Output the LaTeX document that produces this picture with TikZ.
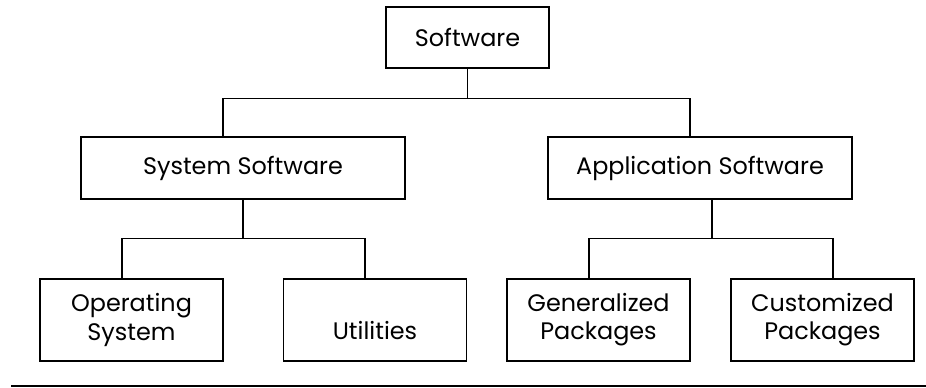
\documentclass[tikz,border=0pt]{standalone}
\usepackage{fontspec}
\setmainfont{Poppins}
\usepackage{tikz}
\tikzset{box/.style={draw,line width=0.85pt,inner sep=0pt,align=center,font=\fontsize{13.6}{16}\selectfont}}

\begin{document}
\begin{tikzpicture}[x=0.02cm,y=-0.02cm]
            \useasboundingbox (0,0) rectangle (926,387);
            \node[box,minimum width=3.26cm,minimum height=1.22cm] (sw) at (467.5,37.5) {Software};
            \node[box,minimum width=6.48cm,minimum height=1.24cm] (sys) at (243,168) {System Software};
            \node[box,minimum width=6.08cm,minimum height=1.24cm] (app) at (700,168) {Application Software};
            \node[box,minimum width=3.66cm,minimum height=1.64cm] (os) at (131.5,320) {Operating\\System};
            \node[box,minimum width=3.66cm,minimum height=1.64cm] (util) at (375,320) {\strut\\\strut Utilities};
            \node[box,minimum width=3.66cm,minimum height=1.64cm] (gen) at (598.5,320) {Generalized\\Packages};
            \node[box,minimum width=3.66cm,minimum height=1.64cm] (cust) at (822.5,320) {Customized\\Packages};
            \draw[line width=0.85pt] (sw.south) -- ++(0,30) coordinate (j1);
            \draw[line width=0.85pt] ([xshift=-0.4cm]sys.north) |- (j1) -| ([xshift=-0.2cm]app.north);
            \draw[line width=0.85pt] (sys.south) -- ++(0,39) coordinate (j2);
            \draw[line width=0.85pt] ([xshift=-0.19cm]os.north) |- (j2) -| ([xshift=-0.2cm]util.north);
            \draw[line width=0.85pt] ([xshift=0.24cm]app.south) -- ++(0,39) coordinate (j3);
            \draw[line width=0.85pt] ([xshift=-0.19cm]gen.north) |- (j3) -| ([xshift=0.21cm]cust.north);
            \draw[line width=1.2pt] (11,386) -- (926,386);
        \end{tikzpicture}
\end{document}
